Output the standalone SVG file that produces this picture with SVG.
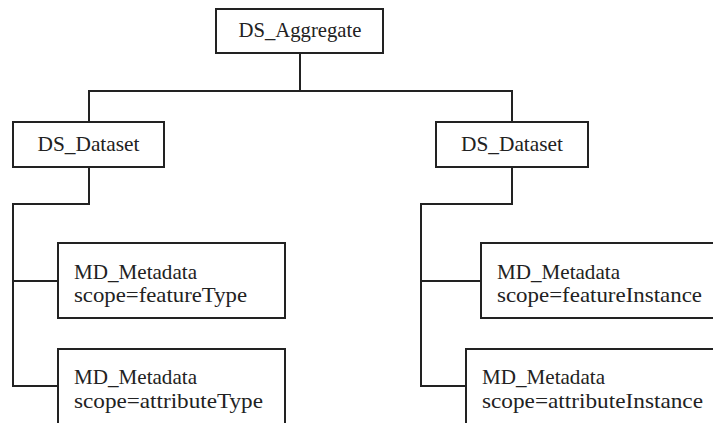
<svg xmlns="http://www.w3.org/2000/svg" width="713" height="423" viewBox="0 0 713 423">
<style>
.box{fill:#fff;stroke:#222;stroke-width:2}
.ln{fill:none;stroke:#222;stroke-width:2}
text{font-family:"Liberation Serif","Times New Roman",serif;font-size:21.5px;fill:#222}
.c{text-anchor:middle}
</style>
<rect width="713" height="423" fill="#fff"/>
<g id="connectors">
<path class="ln" d="M300 53V91M89 122V91H512V122"/>
<path class="ln" d="M89 167V204H13V386H58M13 281H58"/>
<path class="ln" d="M512 167V204H421V386H466M421 281H481"/>
</g>
<g id="ds_aggregate">
<rect class="box" x="216" y="9" width="167" height="44"/>
<text class="c" x="300" y="37" textLength="123" lengthAdjust="spacingAndGlyphs">DS_Aggregate</text>
</g>
<g id="ds_dataset_left">
<rect class="box" x="13" y="122" width="151" height="45"/>
<text class="c" x="88.5" y="151" textLength="102" lengthAdjust="spacingAndGlyphs">DS_Dataset</text>
</g>
<g id="ds_dataset_right">
<rect class="box" x="436" y="122" width="152" height="45"/>
<text class="c" x="512" y="151" textLength="102" lengthAdjust="spacingAndGlyphs">DS_Dataset</text>
</g>
<g id="md_featureType">
<rect class="box" x="58" y="243" width="227" height="75"/>
<text x="74" y="279" textLength="123" lengthAdjust="spacingAndGlyphs">MD_Metadata</text>
<text x="74" y="302" textLength="173" lengthAdjust="spacingAndGlyphs">scope=featureType</text>
</g>
<g id="md_attributeType">
<rect class="box" x="58" y="349" width="227" height="80"/>
<text x="74" y="384" textLength="123" lengthAdjust="spacingAndGlyphs">MD_Metadata</text>
<text x="74" y="408" textLength="189" lengthAdjust="spacingAndGlyphs">scope=attributeType</text>
</g>
<g id="md_featureInstance">
<rect class="box" x="481" y="243" width="240" height="75"/>
<text x="497" y="279" textLength="123" lengthAdjust="spacingAndGlyphs">MD_Metadata</text>
<text x="497" y="302" textLength="205" lengthAdjust="spacingAndGlyphs">scope=featureInstance</text>
</g>
<g id="md_attributeInstance">
<rect class="box" x="466" y="349" width="260" height="80"/>
<text x="482" y="384" textLength="123" lengthAdjust="spacingAndGlyphs">MD_Metadata</text>
<text x="482" y="408" textLength="221" lengthAdjust="spacingAndGlyphs">scope=attributeInstance</text>
</g>
</svg>
